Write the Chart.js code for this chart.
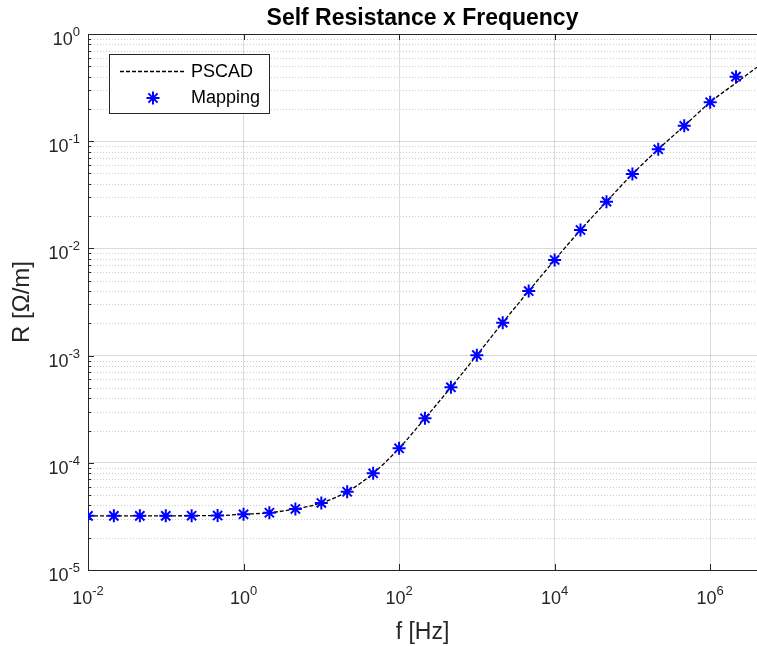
<!DOCTYPE html>
<html><head><meta charset="utf-8">
<script src="https://cdn.jsdelivr.net/npm/chart.js@4.4.0/dist/chart.umd.min.js"></script>
<style>html,body{margin:0;padding:0;background:#fff;overflow:hidden}#wrap{width:757px;height:646px;position:relative}</style>
</head><body><div id="wrap"><canvas id="c" width="757" height="646"></canvas></div>
<script>
// ---- data ----
const freqHz = [0.01, 0.0215, 0.0464, 0.1, 0.215, 0.464, 1, 2.15, 4.64, 10, 21.5, 46.4, 100, 215, 464, 1000, 2150, 4640, 1e4, 2.15e4, 4.64e4, 1e5, 2.15e5, 4.64e5, 1e6, 2.15e6];
const mappingR = [3.2e-5, 3.2e-5, 3.2e-5, 3.2e-5, 3.21e-5, 3.22e-5, 3.31e-5, 3.42e-5, 3.71e-5, 4.22e-5, 5.37e-5, 7.98e-5, 1.365e-4, 2.6e-4, 5.06e-4, 1.01e-3, 2.03e-3, 4.0e-3, 7.8e-3, 1.485e-2, 2.73e-2, 4.94e-2, 8.4e-2, 0.139, 0.231, 0.40];
const pscadFreqHz = [0.01, 0.0215, 0.0464, 0.1, 0.215, 0.464, 1, 2.15, 4.64, 10, 21.5, 46.4, 100, 215, 464, 1000, 2150, 4640, 1e4, 2.15e4, 4.64e4, 1e5, 2.15e5, 4.64e5, 1e6, 2.15e6, 4e6];
const pscadR = [3.2e-5, 3.2e-5, 3.2e-5, 3.2e-5, 3.21e-5, 3.22e-5, 3.31e-5, 3.42e-5, 3.71e-5, 4.22e-5, 5.37e-5, 7.98e-5, 1.365e-4, 2.6e-4, 5.06e-4, 1.01e-3, 2.03e-3, 4.0e-3, 7.8e-3, 1.485e-2, 2.73e-2, 4.94e-2, 8.4e-2, 0.139, 0.231, 0.35, 0.49];
const xTickValues = [1e-2, 1e0, 1e2, 1e4, 1e6];
const yTickValues = [1e-5, 1e-4, 1e-3, 1e-2, 1e-1, 1e0];
const yMinorMantissas = [2, 3, 4, 5, 6, 7, 8, 9];
const seriesNames = ['PSCAD', 'Mapping'];
const titleText = 'Self Resistance x Frequency';
const xLabel = 'f [Hz]';
const yLabel = 'R [\u03A9/m]';

const FF = '"Liberation Sans", Arial, Helvetica, sans-serif';
const AX = '#262626';
const expOf = v => String(Math.round(Math.log10(v)));

// draws "10" with a raised exponent, anchored by (x, baseline)
function drawPow(ctx, v, x, base, align) {
  const b = '10', e = expOf(v);
  ctx.font = '18px ' + FF; const wb = ctx.measureText(b).width;
  ctx.font = '13px ' + FF; const we = ctx.measureText(e).width;
  const tot = wb + we;
  const x0 = align === 'center' ? x - tot / 2 : x - tot;
  ctx.textAlign = 'left'; ctx.textBaseline = 'alphabetic';
  ctx.font = '18px ' + FF; ctx.fillText(b, x0, base);
  ctx.font = '13px ' + FF; ctx.fillText(e, x0 + wb, base - 9);
}

const matlabFrame = {
  id: 'matlabFrame',
  beforeDatasetsDraw(chart) {
    const {ctx, chartArea: a, scales: {y}} = chart;
    ctx.save();
    ctx.strokeStyle = 'rgba(0,0,0,0.2)';
    ctx.lineWidth = 1;
    ctx.setLineDash([1, 2]);
    for (let i = 0; i < yTickValues.length - 1; i++) {
      for (const m of yMinorMantissas) {
        const py = Math.round(y.getPixelForValue(m * yTickValues[i])) + 0.5;
        ctx.beginPath(); ctx.moveTo(a.left, py); ctx.lineTo(a.right, py); ctx.stroke();
      }
    }
    ctx.restore();
  },
  afterDraw(chart) {
    const {ctx, chartArea: a, scales: {x, y}} = chart;
    ctx.save();
    ctx.strokeStyle = AX; ctx.lineWidth = 1; ctx.setLineDash([]);
    ctx.beginPath(); ctx.moveTo(a.left, Math.round(a.top) + 0.5); ctx.lineTo(a.right, Math.round(a.top) + 0.5); ctx.stroke();
    ctx.beginPath();
    for (const v of xTickValues) {
      const px = Math.round(x.getPixelForValue(v)) + 0.5;
      ctx.moveTo(px, a.bottom); ctx.lineTo(px, a.bottom - 6);
      ctx.moveTo(px, a.top); ctx.lineTo(px, a.top + 6);
    }
    for (let i = 0; i < yTickValues.length; i++) {
      const py = Math.round(y.getPixelForValue(yTickValues[i])) + 0.5;
      ctx.moveTo(a.left, py); ctx.lineTo(a.left + 6, py);
      if (i < yTickValues.length - 1) {
        for (const m of yMinorMantissas) {
          const qy = Math.round(y.getPixelForValue(m * yTickValues[i])) + 0.5;
          ctx.moveTo(a.left, qy); ctx.lineTo(a.left + 3, qy);
        }
      }
    }
    ctx.stroke();
    // tick labels
    ctx.fillStyle = AX;
    for (const v of xTickValues) drawPow(ctx, v, x.getPixelForValue(v), a.bottom + 34, 'center');
    for (const v of yTickValues) drawPow(ctx, v, a.left - 8, y.getPixelForValue(v) + 11, 'right');
    // legend
    const bx = 109.5, by = 54.5, bw = 160, bh = 59;
    ctx.fillStyle = '#fff'; ctx.fillRect(bx, by, bw, bh);
    ctx.strokeStyle = AX; ctx.lineWidth = 1; ctx.strokeRect(bx, by, bw, bh);
    const ds = chart.data.datasets;
    ctx.strokeStyle = ds[0].borderColor; ctx.lineWidth = ds[0].borderWidth; ctx.setLineDash(ds[0].borderDash);
    ctx.beginPath(); ctx.moveTo(120, 71.5); ctx.lineTo(184, 71.5); ctx.stroke();
    ctx.setLineDash([]);
    ctx.strokeStyle = ds[1].borderColor; ctx.fillStyle = ds[1].borderColor; ctx.lineWidth = ds[1].pointBorderWidth;
    Chart.helpers.drawPoint(ctx, {pointStyle: 'star', radius: ds[1].pointRadius, borderWidth: ds[1].pointBorderWidth, rotation: 0}, 153, 98);
    ctx.fillStyle = '#000'; ctx.font = '18px ' + FF; ctx.textBaseline = 'middle'; ctx.textAlign = 'left';
    ctx.fillText(ds[0].label, 191, 72);
    ctx.fillText(ds[1].label, 191, 98);
    ctx.restore();
  }
};

new Chart(document.getElementById('c'), {
  data: {
    datasets: [
      { type: 'line', label: seriesNames[0], data: pscadFreqHz.map((f, i) => ({x: f, y: pscadR[i]})),
        borderColor: '#000000', borderWidth: 1.3, borderDash: [4, 2], pointRadius: 0, fill: false,
        cubicInterpolationMode: 'monotone', order: 2 },
      { type: 'scatter', label: seriesNames[1], data: freqHz.map((f, i) => ({x: f, y: mappingR[i]})),
        borderColor: '#0000ff', backgroundColor: '#0000ff', pointStyle: 'star', pointRadius: 6.5, pointBorderWidth: 2, order: 1 }
    ]
  },
  options: {
    responsive: false, animation: false, events: [],
    layout: {padding: 0, autoPadding: false},
    plugins: {
      legend: {display: false}, tooltip: {enabled: false},
      title: {display: true, text: titleText, fullSize: false, color: '#000', font: {family: FF, size: 23, weight: 'bold'}, padding: {top: 4.4, bottom: 2}}
    },
    scales: {
      x: { type: 'logarithmic', min: 0.01, max: 4e6,
        afterBuildTicks: s => { s.ticks = xTickValues.map(v => ({value: v})); },
        afterFit: s => { s.height = 76; s.paddingLeft = 0; s.paddingRight = 0; },
        ticks: {display: false, callback: v => '10^' + expOf(v), autoSkip: false},
        grid: {color: 'rgba(0,0,0,0.14)', drawTicks: false, lineWidth: 1},
        border: {color: AX, width: 1},
        title: {display: true, text: xLabel, font: {family: FF, size: 23}, color: AX, padding: {top: 0, bottom: 0}} },
      y: { type: 'logarithmic', min: 1e-5, max: 1,
        afterBuildTicks: s => { s.ticks = yTickValues.map(v => ({value: v})); },
        afterFit: s => { s.width = 88; },
        ticks: {display: false, callback: v => '10^' + expOf(v), autoSkip: false},
        grid: {color: 'rgba(0,0,0,0.14)', drawTicks: false, lineWidth: 1},
        border: {color: AX, width: 1},
        title: {display: true, text: yLabel, font: {family: FF, size: 24}, color: AX, padding: {top: 8, bottom: 0}} }
    }
  },
  plugins: [matlabFrame]
});
</script></body></html>
